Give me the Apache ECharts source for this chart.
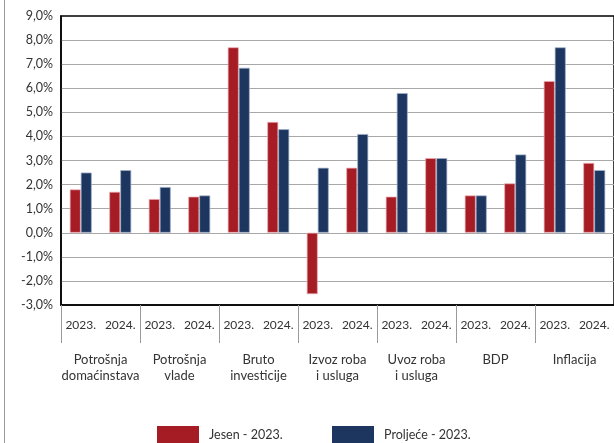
<!DOCTYPE html>
<html><head><meta charset="utf-8">
<script src="https://cdn.jsdelivr.net/npm/echarts@6/dist/echarts.min.js"></script>
<style>html,body{margin:0;padding:0;background:#fff}#c{width:614px;height:443px}</style>
</head><body><div id="c"></div>
<script>
const yearLabels = ['2023.','2024.','2023.','2024.','2023.','2024.','2023.','2024.','2023.','2024.','2023.','2024.','2023.','2024.'];
const groupLabels = ['Potrošnja\ndomaćinstava','Potrošnja\nvlade','Bruto\ninvesticije','Izvoz roba\ni usluga','Uvoz roba\ni usluga','BDP','Inflacija'];
const jesen2023 = [1.8,1.7, 1.4,1.5, 7.7,4.6, -2.55,2.7, 1.5,3.1, 1.55,2.05, 6.3,2.9];
const proljece2023 = [2.5,2.6, 1.9,1.55, 6.85,4.3, 2.7,4.1, 5.8,3.1, 1.55,3.25, 7.7,2.6];
const seriesNames = ['Jesen - 2023.','Proljeće - 2023.'];
const yMin = -3, yMax = 9, yStep = 1;

const FONT = 'Lato';
const chart = echarts.init(document.getElementById('c'), null, {renderer:'canvas'});
const legendBase = {top:426, padding:0, itemWidth:42, itemHeight:17, icon:'rect', itemGap:0,
  itemStyle:{borderWidth:0},
  textStyle:{fontFamily:FONT, fontSize:12.5, color:'#333', padding:[4,0,0,5]}};
chart.setOption({
  animation:false,
  backgroundColor:'#fff',
  textStyle:{fontFamily:FONT},
  grid:{left:61, right:-2, top:16, bottom:138, show:true, borderColor:'#000', borderWidth:1.5, backgroundColor:'transparent'},
  legend:[
    Object.assign({data:[seriesNames[0]], left:157}, legendBase),
    Object.assign({data:[seriesNames[1]], left:332}, legendBase)
  ],
  xAxis:[
    {type:'category', data:yearLabels, position:'bottom',
     axisLine:{show:true, onZero:false, lineStyle:{color:'#000', width:1.5}},
     axisTick:{show:false},
     axisLabel:{interval:0, margin:14, fontSize:12, color:'#333', fontFamily:FONT}},
    {type:'category', data:groupLabels, position:'bottom',
     axisLine:{show:false, onZero:false},
     axisTick:{show:true, length:38, interval:0, lineStyle:{color:'#9a9a9a', width:1}},
     axisLabel:{interval:0, margin:47, fontSize:13, lineHeight:16, color:'#333', fontFamily:FONT}}
  ],
  yAxis:{type:'value', min:yMin, max:yMax, interval:yStep,
    axisLine:{show:true, lineStyle:{color:'#000', width:1.5}},
    axisTick:{show:false},
    splitLine:{show:true, showMinLine:false, showMaxLine:false, lineStyle:{color:'#a8a8a8', width:1.2}},
    axisLabel:{margin:8, fontSize:12.5, color:'#333', fontFamily:FONT,
      formatter:v=>v.toFixed(1).replace('.',',')+'%'}},
  series:[
    {name:seriesNames[0], type:'bar', xAxisIndex:0, data:jesen2023, barWidth:11, barGap:'0%',
     itemStyle:{color:'#a51c24', borderColor:'rgba(235,170,175,0.9)', borderWidth:0.8}},
    {name:seriesNames[1], type:'bar', xAxisIndex:0, data:proljece2023, barWidth:11, barGap:'0%',
     itemStyle:{color:'#1c3660', borderColor:'rgba(160,175,200,0.9)', borderWidth:0.8}}
  ],
  graphic:[
    {type:'line', shape:{x1:4.5, y1:0, x2:4.5, y2:443}, style:{stroke:'#9a9a9a', lineWidth:1}, silent:true}
  ]
});
</script></body></html>
